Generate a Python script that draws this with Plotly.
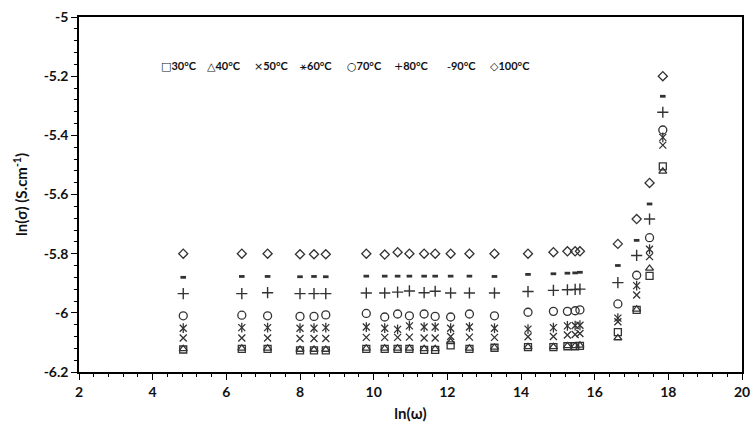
import plotly.graph_objects as go

# ln(omega) values for each measured frequency
ln_omega = [4.83, 6.42, 7.12, 8.00, 8.38, 8.70, 9.80, 10.30, 10.65, 10.97, 11.37, 11.67,
            12.09, 12.60, 13.28, 14.19, 14.88, 15.26, 15.47, 15.60, 16.63, 17.14, 17.49, 17.85]

# ln(sigma) for each temperature
s30 = [-6.124, -6.122, -6.122, -6.127, -6.127, -6.127, -6.122, -6.122, -6.122, -6.122, -6.125, -6.125,
       -6.110, -6.122, -6.118, -6.116, -6.116, -6.113, -6.113, -6.112, -6.065, -5.990, -5.875, -5.505]
s40 = [-6.122, -6.120, -6.120, -6.124, -6.124, -6.124, -6.120, -6.120, -6.120, -6.120, -6.122, -6.122,
       -6.098, -6.120, -6.117, -6.115, -6.115, -6.112, -6.112, -6.110, -6.085, -5.988, -5.850, -5.522]
s50 = [-6.085, -6.085, -6.085, -6.087, -6.087, -6.087, -6.083, -6.083, -6.083, -6.082, -6.085, -6.085,
       -6.080, -6.082, -6.083, -6.081, -6.080, -6.075, -6.073, -6.070, -6.030, -5.940, -5.810, -5.433]
s60 = [-6.052, -6.050, -6.050, -6.052, -6.052, -6.050, -6.048, -6.052, -6.056, -6.044, -6.048, -6.048,
       -6.052, -6.048, -6.052, -6.055, -6.050, -6.044, -6.043, -6.042, -6.018, -5.908, -5.785, -5.407]
s70 = [-6.010, -6.008, -6.010, -6.012, -6.012, -6.007, -6.002, -6.014, -6.004, -6.010, -6.004, -6.012,
       -6.014, -6.004, -6.010, -5.998, -5.995, -5.995, -5.993, -5.990, -5.970, -5.873, -5.746, -5.382]
s80 = [-5.935, -5.935, -5.932, -5.935, -5.935, -5.935, -5.933, -5.933, -5.930, -5.926, -5.932, -5.927,
       -5.933, -5.933, -5.933, -5.928, -5.924, -5.922, -5.921, -5.920, -5.898, -5.806, -5.683, -5.322]
s90 = [-5.880, -5.877, -5.877, -5.878, -5.877, -5.878, -5.876, -5.876, -5.876, -5.876, -5.876, -5.876,
       -5.876, -5.876, -5.877, -5.870, -5.868, -5.866, -5.865, -5.863, -5.840, -5.755, -5.632, -5.268]
s100 = [-5.800, -5.800, -5.800, -5.802, -5.802, -5.802, -5.800, -5.803, -5.795, -5.800, -5.800, -5.800,
        -5.800, -5.800, -5.800, -5.800, -5.795, -5.792, -5.792, -5.792, -5.767, -5.683, -5.561, -5.200]

labels = ["30°C", "40°C", "50°C", "60°C", "70°C", "80°C", "90°C", "100°C"]
legend_glyphs = ["□", "△", "×", "⚹", "○", "+", "-", "◇"]

x_ticks = [2, 4, 6, 8, 10, 12, 14, 16, 18, 20]
y_ticks = [-5, -5.2, -5.4, -5.6, -5.8, -6, -6.2]
y_ticktext = ["-5", "-5.2", "-5.4", "-5.6", "-5.8", "-6", "-6.2"]

MC = "#333333"
FONT = "Lato"

series = [
    (s30, "square-open", 7, 1.3),
    (s40, "triangle-up-open", 7, 1.3),
    (s50, "x-thin-open", 7, 1.3),
    (s60, "x-thin-open", 7, 1.3),
    (s70, "circle-open", 8, 1.3),
    (s80, "cross-thin-open", 8, 1.4),
    (s90, "line-ew-open", 4, 2.8),
    (s100, "diamond-open", 7, 1.3),
]

fig = go.Figure()
for (vals, sym, size, lw), name in zip(series, labels):
    fig.add_trace(go.Scatter(
        x=ln_omega, y=vals, mode="markers", name=name, showlegend=False,
        marker=dict(symbol=sym, size=size, color=MC, line=dict(color=MC, width=lw)),
    ))
    if name == "60°C":
        # Excel-style star: x plus vertical bar
        fig.add_trace(go.Scatter(
            x=ln_omega, y=vals, mode="markers", name=name, showlegend=False,
            marker=dict(symbol="line-ns-open", size=7, color=MC, line=dict(color=MC, width=1.3)),
        ))

# legend built from text
legend_px = [160, 207, 254, 301, 348, 396, 449, 493]
plot_l, plot_r = 79, 750
for gx, glyph, lab in zip(legend_px, legend_glyphs, labels):
    fig.add_annotation(
        x=(gx - plot_l) / (plot_r - plot_l), y=0.862, xref="paper", yref="paper",
        xanchor="left", yanchor="middle", showarrow=False,
        text=f"<span style='font-family:DejaVu Sans'>{glyph}</span><b>{lab}</b>",
        font=dict(family=FONT, size=11, color="#111"),
    )

axis_common = dict(
    showline=True, linecolor="#000", linewidth=1.5, mirror=True,
    showgrid=False, zeroline=False,
    ticks="outside", tickcolor="#000", tickwidth=1.2,
    tickfont=dict(family=FONT, size=14, color="#111", weight="bold"),
)

fig.update_xaxes(
    range=[2, 20], tickmode="array", tickvals=x_ticks, ticklen=6,
    ticklabeloverflow="allow",
    minor=dict(dtick=0.4, tick0=2, ticklen=3, ticks="outside", tickcolor="#000", tickwidth=1),
    title=dict(text="<b>ln(ω)</b>", font=dict(family=FONT, size=15, color="#111"), standoff=10),
    **axis_common,
)
fig.update_yaxes(
    range=[-6.2, -5], tickmode="array", tickvals=y_ticks, ticktext=y_ticktext, ticklen=6,
    minor=dict(dtick=0.04, tick0=-5, ticklen=3, ticks="outside", tickcolor="#000", tickwidth=1),
    title=dict(text="<b>ln(σ) (S.cm<sup>-1</sup>)</b>", font=dict(family=FONT, size=15, color="#111"), standoff=12),
    **axis_common,
)

fig.update_layout(
    width=755, height=430,
    margin=dict(l=79, r=5, t=17, b=58),
    paper_bgcolor="white", plot_bgcolor="white",
    showlegend=False,
)

fig.write_html("out.html")
